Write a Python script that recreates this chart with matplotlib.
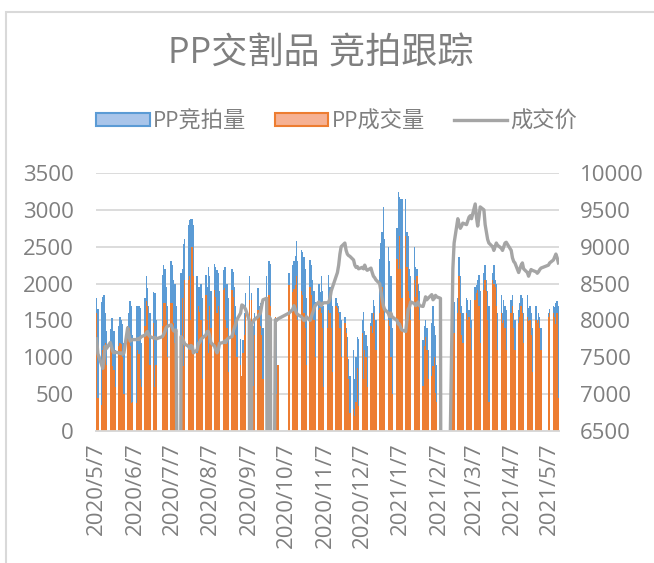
import numpy as np
import pandas as pd
import matplotlib.pyplot as plt
from matplotlib.patches import Patch, Rectangle
from matplotlib.lines import Line2D

plt.rcParams['font.family'] = ['Open Sans', 'Noto Sans CJK SC', 'DejaVu Sans']

# exchange holidays inside the window (no auction)
holidays = ['2020-06-25', '2020-06-26',
            '2020-10-01', '2020-10-02', '2020-10-05', '2020-10-06', '2020-10-07', '2020-10-08',
            '2021-01-01',
            '2021-02-11', '2021-02-12', '2021-02-15', '2021-02-16', '2021-02-17',
            '2021-04-05',
            '2021-05-03', '2021-05-04', '2021-05-05']
dates = pd.bdate_range('2020-05-07', '2021-05-14', freq='C', holidays=holidays)

# daily auction volume (one row per week)
bid = [
    1800, 1650,
    1750, 1820, 1850, 1600, 1350,
    1380, 1530, 1530, 1350, 1100,
    1420, 1550, 1510, 1450, 1200,
    1420, 1600, 1760, 1700, 1300,
    1690, 1700, 1700, 1670, 1200,
    1800, 2100, 1940, 1700, 1600,
    1890, 1870, 1500,
    2120, 2250, 2200, 1950, 1700,
    2300, 2250, 2050, 2000, 1700,
    0, 2140, 2200, 2540, 2600,
    2800, 2860, 2880, 2880, 2800,
    2100, 1960, 1950, 2000, 1800,
    2120, 1960, 2230, 2100, 1900,
    2270, 2230, 2180, 2140, 1900,
    2180, 2230, 2230, 2000, 1800,
    2200, 2160, 1960, 1700, 1500,
    1250, 740, 1240, 1600, 1870,
    2100, 0, 1870, 1420, 1600,
    1940, 1690, 1730, 1600, 1400,
    2100, 0, 2300, 2270, 0,
    1550, 1500, 900,
    2140,
    2250, 2300, 2380, 2580, 2300,
    2450, 2430, 2360, 2200, 1800,
    2320, 2250, 2050, 1900, 1750,
    2000, 1890, 2100, 1900, 1700,
    1750, 2120, 1950, 1850, 1700,
    1800, 1730, 1700, 1620, 1500,
    1550, 1400, 1280, 970, 740,
    1100, 700, 1000, 1280, 1250,
    1510, 1620, 1350, 1300, 1150,
    1460, 1600, 1780, 1700, 1500,
    2340, 2550, 2700, 3040, 2600,
    2500, 2300, 2100, 1400,
    2750, 3240, 3180, 3150, 3150,
    3150, 2700, 2640, 2200, 2100,
    2500, 2230, 2200, 2000, 1900,
    1240, 1420, 1510, 1400, 1100,
    1460, 1690, 1420, 1300, 900,
    400, 0, 0,
    1850, 1750,
    1800, 2360, 2100, 1700, 1600,
    1800, 1780, 1640, 1780, 1500,
    1960, 1980, 2050, 2120, 1900,
    2140, 2250, 2050, 1900, 1700,
    2140, 2250, 2050, 2000, 1600,
    1850, 1600, 1780, 1700, 1640,
    1780, 1850, 1600, 1500,
    1640, 1730, 1850, 1800, 1600,
    1850, 1670, 1700, 1600, 1400,
    1690, 1510, 1600, 1550, 1400,
    1600, 1650,
    1700, 1680, 1730, 1760, 1700,
]

# daily traded volume
deal = [
    1600, 450,
    350, 1100, 1150, 1200, 900,
    1150, 1200, 880, 830, 600,
    1150, 1200, 1180, 1000, 500,
    1420, 1400, 1150, 380, 400,
    380, 1100, 1050, 700, 600,
    1420, 1760, 1690, 1300, 900,
    1460, 600, 900,
    1420, 1730, 1730, 1500, 1000,
    1730, 1730, 1460, 1200, 500,
    0, 520, 1800, 880, 2050,
    2050, 2100, 1500, 2500, 2100,
    1060, 1690, 1620, 1500, 700,
    1850, 1510, 1060, 1700, 1400,
    1910, 1820, 1600, 1700, 1200,
    1910, 1940, 1510, 1400, 800,
    1910, 1820, 1420, 1300, 1000,
    900, 740, 1060, 1300, 1600,
    1780, 0, 1780, 610, 1300,
    1640, 1600, 1420, 1300, 700,
    1690, 0, 1850, 1690, 0,
    1550, 500, 900,
    1980,
    1880, 1930, 1980, 2100, 1500,
    1900, 1850, 1600, 1400, 900,
    1960, 1850, 1600, 1500, 1000,
    1640, 1670, 1600, 1400, 600,
    1400, 1640, 1600, 1400, 800,
    1690, 1670, 1600, 1400, 1000,
    1460, 1330, 1000, 700, 250,
    300, 200, 400, 860, 340,
    1330, 700, 1100, 1000, 600,
    1420, 1330, 1600, 1500, 1100,
    1600, 1900, 1960, 1700, 1500,
    1510, 1420, 1000, 500,
    2340, 2200, 2640, 2200, 1800,
    2640, 2230, 1900, 1800, 1500,
    2050, 1820, 2100, 1700, 1500,
    610, 1150, 1280, 1100, 700,
    740, 880, 1000, 520, 400,
    100, 0, 0,
    830, 1330,
    1600, 2100, 1600, 1300, 1200,
    1600, 1510, 1550, 1400, 1100,
    1780, 1870, 1910, 1700, 1200,
    1910, 2050, 1900, 1500, 400,
    2050, 2000, 1960, 1700, 1100,
    1600, 1460, 1500, 1400, 1100,
    1600, 1690, 1400, 1100,
    1460, 1550, 1690, 1600, 1200,
    1550, 1490, 1500, 1300, 800,
    1510, 1460, 1500, 1400, 1100,
    1550, 1600,
    1600, 1550, 1450, 1600, 450,
]

# daily traded price (0 = no trade that day)
price = [
    7750, 7550,
    7400, 7350, 7500, 7650, 7620,
    7700, 7640, 7580, 7560, 7570,
    7560, 7550, 7560, 7540, 7560,
    7900, 7800, 7720, 7730, 7740,
    7740, 7750, 7740, 7760, 7780,
    7800, 7830, 7850, 7800, 7780,
    7760, 7770, 7750,
    7780, 7810, 7850, 7900, 7920,
    7940, 7900, 7860, 7850, 7870,
    0, 7780, 7760, 7720, 7680,
    7650, 7620, 7660, 7650, 7560,
    7600, 7690, 7700, 7740, 7760,
    7800, 7850, 7850, 7800, 7700,
    7650, 7600, 7560, 7600, 7690,
    7700, 7720, 7700, 7740, 7760,
    7780, 7850, 7900, 7950, 8010,
    8100, 8210, 8200, 8180, 8150,
    8000, 0, 7960, 7980, 8010,
    8050, 8080, 8100, 8200, 8280,
    8300, 0, 8050, 8020, 0,
    8010, 8000, 8020,
    8100,
    8150, 8200, 8150, 8100, 8080,
    8050, 8030, 8000, 8000, 8050,
    8000, 8050, 8100, 8150, 8200,
    8250, 8220, 8200, 8230, 8240,
    8240, 8250, 8300, 8400, 8450,
    8600, 8650, 8750, 8900, 9000,
    9050, 8950, 8900, 8880, 8870,
    8820, 8750, 8720, 8730, 8700,
    8720, 8700, 8750, 8700, 8680,
    8710, 8650, 8600, 8580, 8550,
    8500, 8400, 8300, 8200, 8150,
    8100, 8050, 8100, 8050,
    8000, 7950, 7950, 7900, 7870,
    7850, 8000, 8150, 8180, 8250,
    8230, 8200, 8220, 8250, 8200,
    8190, 8250, 8320, 8280, 8300,
    8350, 8280, 8300, 8340, 8320,
    8300, 0, 0,
    8700, 9050,
    9380, 9300, 9250, 9280, 9320,
    9300, 9350, 9400, 9420, 9380,
    9580, 9400, 9280, 9400, 9540,
    9500, 9300, 9200, 9100, 9050,
    9000, 8950, 9000, 9050, 9020,
    8980, 8950, 9000, 9050, 9060,
    8950, 8850, 8800, 8780,
    8650, 8700, 8750, 8780, 8700,
    8650, 8600, 8650, 8690, 8680,
    8660, 8640, 8660, 8690, 8710,
    8750, 8780,
    8820, 8860, 8900, 8850, 8780,
]

tick_labels = ['2020/5/7', '2020/6/7', '2020/7/7', '2020/8/7', '2020/9/7', '2020/10/7',
               '2020/11/7', '2020/12/7', '2021/1/7', '2021/2/7', '2021/3/7', '2021/4/7',
               '2021/5/7']
tick_dates = pd.to_datetime([s.replace('/', '-') for s in tick_labels])

assert len(dates) == len(bid) == len(deal) == len(price)

blue, orange, grey = '#5B9BD5', '#ED7D31', '#A5A5A5'
text_c = '#7F7F7F'
grid_c = '#D9D9D9'

fig = plt.figure(figsize=(6.54, 5.63), dpi=100)
ax = fig.add_axes([96 / 654, 1 - 431 / 563, 463 / 654, 258 / 563])
ax2 = ax.twinx()

# slightly wider than a day so neighbouring bars touch without seams
ax.bar(dates, bid, width=1.15, color=blue, linewidth=0, zorder=2)
ax.bar(dates, deal, width=1.15, color=orange, linewidth=0, zorder=3)
ax2.plot(dates, price, color=grey, lw=2.4, solid_joinstyle='round')

ax.set_xlim(dates[0] - pd.Timedelta(hours=12), dates[-1] + pd.Timedelta(hours=12))
ax.set_ylim(0, 3500)
ax2.set_ylim(6500, 10000)
ax.set_yticks(np.arange(0, 3501, 500))
ax2.set_yticks(np.arange(6500, 10001, 500))
ax.set_xticks(tick_dates)
ax.set_xticklabels(tick_labels, rotation=90)

ax.grid(axis='y', color=grid_c, lw=1.3, zorder=0)
ax.set_axisbelow(True)
for a in (ax, ax2):
    for s in ('top', 'left', 'right'):
        a.spines[s].set_visible(False)
    a.spines['bottom'].set_color(grid_c)
    a.spines['bottom'].set_linewidth(1.3)
ax.tick_params(axis='y', length=0, pad=16, labelsize=16, labelcolor=text_c)
ax2.tick_params(axis='y', length=0, pad=15, labelsize=16, labelcolor=text_c)
ax.tick_params(axis='x', length=0, pad=8, labelsize=16, labelcolor=text_c)

fig.text(0.49, 1 - 55 / 563, 'PP交割品 竞拍跟踪', ha='center', va='center',
         fontsize=26, color=text_c)

handles = [Patch(facecolor='#A9C5EA', edgecolor=blue, lw=1.5),
           Patch(facecolor='#F6B193', edgecolor=orange, lw=1.5),
           Line2D([0], [0], color=grey, lw=2.4)]
fig.legend(handles, ['PP竞拍量', 'PP成交量', '成交价'], loc='center', ncol=3,
           bbox_to_anchor=(0.515, 1 - 122 / 563), frameon=False, fontsize=16,
           labelcolor=text_c, handlelength=2.4, handleheight=0.55,
           handletextpad=0.15, columnspacing=1.3)

# chart frame: only its left and top edges fall inside the image
fig.add_artist(Rectangle((6 / 654, -0.05), 1.0, 1 - 12 / 563 + 0.05,
                         transform=fig.transFigure, fill=False,
                         edgecolor=grid_c, lw=1.5))

fig.savefig('out.png', dpi=100)
